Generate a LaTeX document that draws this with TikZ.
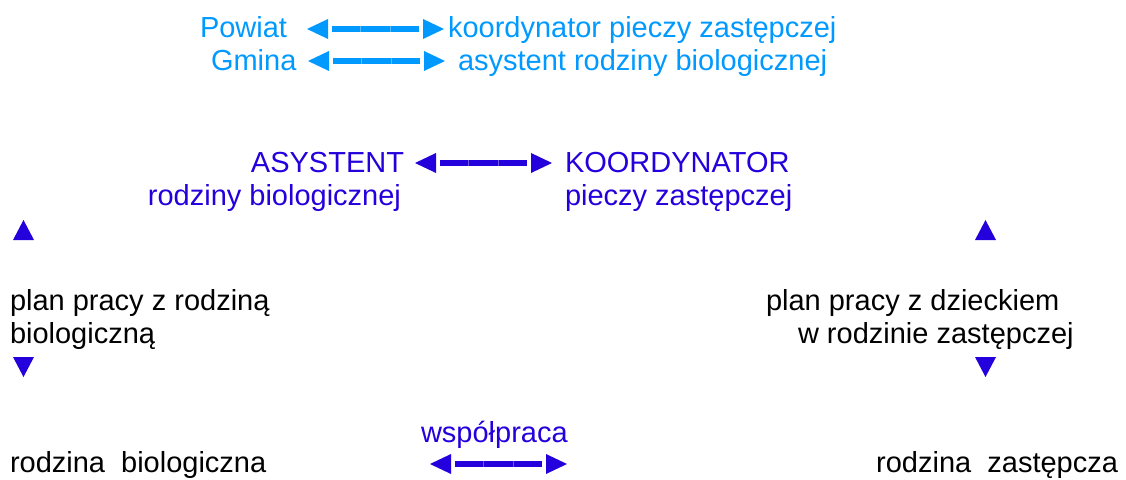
\documentclass[tikz,border=0pt]{standalone}
\usepackage{fontspec}
\setmainfont{Liberation Sans}
\usetikzlibrary{calc}
\definecolor{lightb}{RGB}{0,153,255}
\definecolor{darkb}{RGB}{36,0,220}
\tikzset{
  txt/.style={inner sep=0pt, outer sep=0pt, font=\fontsize{29}{33}\selectfont},
  lt/.style={txt, text=lightb},
  dk/.style={txt, text=darkb},
  bk/.style={txt, text=black},
}
\newcommand\dblarr[3]{%
  \fill[#3] (#1) -- ($(#1)+(21,10)$) -- ($(#1)+(21,-10)$) -- cycle;
  \fill[#3] (#2) -- ($(#2)+(-21,10)$) -- ($(#2)+(-21,-10)$) -- cycle;
  \fill[#3] ($(#1)+(25,3)$) rectangle ($(#2)+(-25,-3)$);
  \draw[white, opacity=0.35, line width=0.6pt]
    ($(#1)!0.39!(#2)+(0,3)$) -- ($(#1)!0.39!(#2)+(0,-3)$)
    ($(#1)!0.61!(#2)+(0,3)$) -- ($(#1)!0.61!(#2)+(0,-3)$);}
\begin{document}
\begin{tikzpicture}[x=1pt,y=-1pt]
\useasboundingbox (0,0) rectangle (1126,479);
% top legend
\node[lt, anchor=base west] (powiat) at (200,37) {Powiat};
\node[lt, anchor=base west] (koordp) at (448,37) {koordynator pieczy zastępczej};
\node[lt, anchor=base west] (gmina) at (211,70) {Gmina};
\node[lt, anchor=base west] (asystg) at (458,70) {asystent rodziny biologicznej};
\coordinate (a1l) at (307,29); \coordinate (a1r) at (444,29);
\coordinate (a2l) at (308,61); \coordinate (a2r) at (445,61);
\dblarr{a1l}{a1r}{lightb}
\dblarr{a2l}{a2r}{lightb}
% middle
\node[dk, anchor=base east] (asyst) at (404,172) {ASYSTENT};
\node[dk, anchor=base east] (asyst2) at (401,205) {rodziny biologicznej};
\node[dk, anchor=base west] (koord) at (565,172) {KOORDYNATOR};
\node[dk, anchor=base west] (koord2) at (565,205) {pieczy zastępczej};
\coordinate (a3l) at (415,163); \coordinate (a3r) at (552,163);
\dblarr{a3l}{a3r}{darkb}
% plans
\node[bk, anchor=base west] (planl) at (10,310) {plan pracy z rodziną};
\node[bk, anchor=base west] (planl2) at (10,343) {biologiczną};
\node[bk, anchor=base west] (planr) at (766,310) {plan pracy z dzieckiem};
\node[bk, anchor=base west] (planr2) at (798,343) {w rodzinie zastępczej};
% triangles
\fill[darkb] (13,240) -- (23.5,220) -- (34,240) -- cycle;
\fill[darkb] (975,240) -- (985.5,220) -- (996,240) -- cycle;
\fill[darkb] (13,357) -- (23.5,377) -- (34,357) -- cycle;
\fill[darkb] (975,357) -- (985.5,377) -- (996,357) -- cycle;
% bottom
\node[dk, anchor=base west] (wsp) at (421,442) {współpraca};
\node[bk, anchor=base west] (rb) at (10,472) {rodzina\ \ biologiczna};
\node[bk, anchor=base east] (rz) at (1118,472) {rodzina\ \ zastępcza};
\coordinate (a4l) at (430,464); \coordinate (a4r) at (567,464);
\dblarr{a4l}{a4r}{darkb}
\end{tikzpicture}
\end{document}
